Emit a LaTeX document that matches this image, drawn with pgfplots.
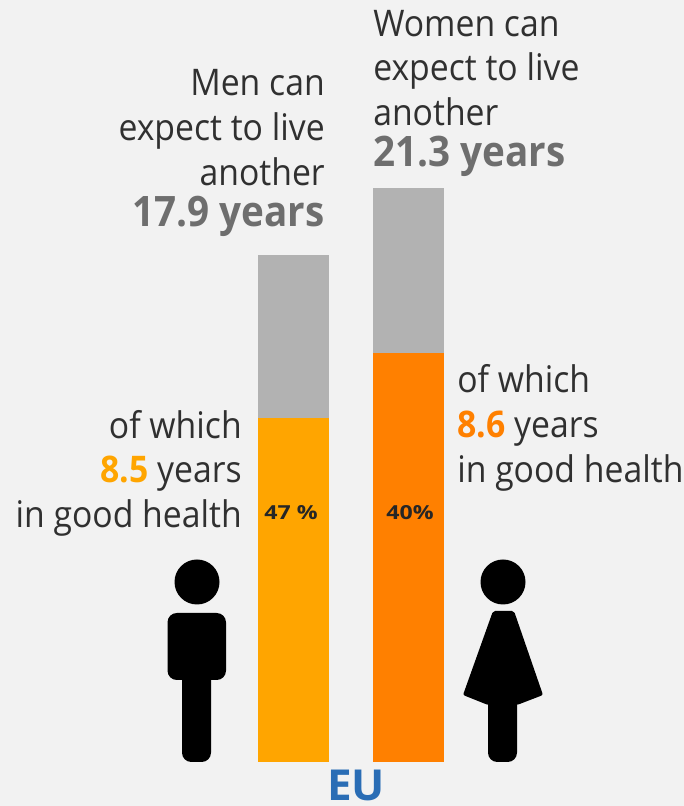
\documentclass[border=0pt]{standalone}
\usepackage{fontspec}
\setmainfont[FakeStretch=0.92]{Open Sans}
\usepackage{pgfplots}
\pgfplotsset{compat=1.18}
\definecolor{bg}{HTML}{F2F2F2}
\definecolor{restgrey}{HTML}{B2B2B2}
\definecolor{menorange}{HTML}{FFA500}
\definecolor{womenorange}{HTML}{FF8000}
\definecolor{bodytext}{HTML}{303030}
\definecolor{totaltext}{HTML}{6E6E6E}
\definecolor{eublue}{HTML}{2A6DB5}

% Every segment is on its own scale, with the baseline 44 units above the bottom edge.
% Bars sit at x = 0 (men) and x = 1 (women).
\pgfplotsset{
  barpanel/.style={
    at={(0,0)}, anchor=south west,
    scale only axis, width=513pt, height=604.5pt,
    hide axis, clip=false,
    xmin=-2.5522, xmax=3.3957,
    ybar, bar width=53.6pt, bar shift=0pt,
  },
}
\newcommand{\lineR}[3]{\node[anchor=base east,inner sep=0pt,text=bodytext,font=\fontsize{27.5}{27.5}\selectfont] at (#1,#2) {#3};}
\newcommand{\lineL}[3]{\node[anchor=base west,inner sep=0pt,text=bodytext,font=\fontsize{27.5}{27.5}\selectfont] at (#1,#2) {#3};}

\begin{document}
\begin{tikzpicture}
\fill[bg] (0,0) rectangle (513pt,604.5pt);
\useasboundingbox (0,0) rectangle (513pt,604.5pt);

% Men: total remaining years
\begin{axis}[barpanel, ymin=-1.553, ymax=26.905]
  \addplot[fill=restgrey, draw=none] coordinates {(0,17.9)};
\end{axis}
% Women: total remaining years
\begin{axis}[barpanel, ymin=-1.633, ymax=28.28]
  \addplot[fill=restgrey, draw=none] coordinates {(1,21.3)};
\end{axis}
% Men: years in good health
\begin{axis}[barpanel, ymin=-1.087, ymax=18.83]
  \addplot[fill=menorange, draw=none] coordinates {(0,8.5)};
\end{axis}
% Women: years in good health
\begin{axis}[barpanel, ymin=-0.925, ymax=16.02]
  \addplot[fill=womenorange, draw=none] coordinates {(1,8.6)};
\end{axis}

\begin{scope}[x=0.75pt,y=-0.75pt,yshift=604.5pt]
  % Text above the bars
  \lineR{325}{96}{Men can}
  \lineR{325}{141}{expect to live}
  \lineR{325}{186}{another}
  \node[anchor=base east,inner sep=0pt,font=\fontsize{31.5}{31.5}\selectfont\bfseries,text=totaltext] at (325,227) {17.9 years};
  \lineL{373}{37}{Women can}
  \lineL{373}{81}{expect to live}
  \lineL{373}{126}{another}
  \node[anchor=base west,inner sep=0pt,font=\fontsize{31.5}{31.5}\selectfont\bfseries,text=totaltext] at (373,167) {21.3 years};

  % Text beside the bars
  \lineR{242}{439}{of which}
  \lineR{242}{483}{\textcolor{menorange}{\bfseries 8.5} years}
  \lineR{242}{528}{in good health}
  \lineL{457}{393}{of which}
  \lineL{457}{438}{\textcolor{womenorange}{\bfseries 8.6} years}
  \lineL{457}{483}{in good health}

  % Shares inside the bars
  \node[font=\fontsize{14.5}{14.5}\selectfont\bfseries,text=black!85,inner sep=0pt] at (291,513) {\scalebox{1.3}[1]{47 \%}};
  \node[font=\fontsize{14.5}{14.5}\selectfont\bfseries,text=black!85,inner sep=0pt] at (410,513) {\scalebox{1.3}[1]{40\%}};

  % Region label
  \node[anchor=base,inner sep=0pt,font=\fontsize{32}{32}\selectfont\bfseries,text=eublue] at (356,800) {\scalebox{1.12}[1]{EU}};

  % Man pictogram
  \fill[black] (197,582) circle[radius=22.5];
  \fill[black,rounded corners=7] (167.5,613) rectangle (226,680);
  \fill[black,rounded corners=7] (182,670) rectangle (211,762);

  % Woman pictogram
  \fill[black] (503,582) circle[radius=22.5];
  \fill[black,rounded corners=1.5] (493,611) -- (514,611) -- (543,695) -- (517,705) -- (488,705) -- (463,695) -- cycle;
  \fill[black,rounded corners=7] (488,695) rectangle (517,762);
\end{scope}
\end{tikzpicture}
\end{document}
